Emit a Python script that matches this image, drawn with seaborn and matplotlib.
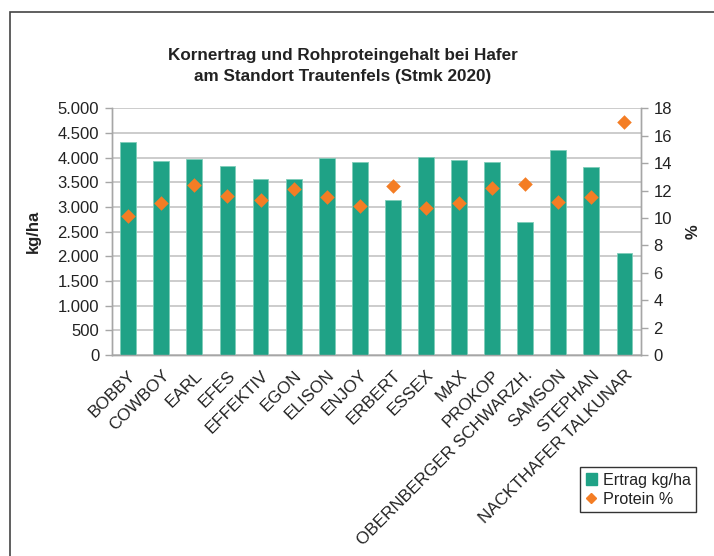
import numpy as np
import matplotlib
matplotlib.use("Agg")
import matplotlib.pyplot as plt
import matplotlib.ticker as mticker
from matplotlib.patches import Patch, Rectangle
from matplotlib.lines import Line2D
import seaborn as sns

# Daten
sorten = ['BOBBY', 'COWBOY', 'EARL', 'EFES', 'EFFEKTIV', 'EGON', 'ELISON', 'ENJOY',
          'ERBERT', 'ESSEX', 'MAX', 'PROKOP', 'OBERNBERGER SCHWARZH.', 'SAMSON',
          'STEPHAN', 'NACKTHAFER TALKUNAR']
ertrag = [4310, 3925, 3965, 3830, 3560, 3570, 4000, 3910,
          3150, 4015, 3950, 3905, 2690, 4150, 3810, 2065]
protein = [10.15, 11.1, 12.4, 11.6, 11.3, 12.1, 11.5, 10.9,
           12.3, 10.7, 11.1, 12.2, 12.5, 11.2, 11.5, 17.0]
ertrag_ticks = [0, 500, 1000, 1500, 2000, 2500, 3000, 3500, 4000, 4500, 5000]
protein_ticks = [0, 2, 4, 6, 8, 10, 12, 14, 16, 18]

sns.set_style("white")
plt.rcParams['font.family'] = ['Liberation Sans', 'DejaVu Sans']
plt.rcParams['font.size'] = 12

gruen = '#1fa286'
orange = '#f47d24'
grau = '#a6a6a6'
text = '#222222'

fig = plt.figure(figsize=(7.14, 5.56), dpi=100)
ax = fig.add_axes([0.1564, 0.3615, 0.8978 - 0.1564, 0.8052 - 0.3615])

df_x = np.arange(len(sorten))
sns.barplot(x=df_x, y=ertrag, color=gruen, width=0.48, saturation=1,
            edgecolor='#7fcdb9', linewidth=0.6, ax=ax, zorder=3)

ax.set_ylim(0, 5000)
ax.set_yticks(ertrag_ticks)
ax.yaxis.set_major_formatter(mticker.FuncFormatter(lambda v, p: f"{v:,.0f}".replace(",", ".")))
ax.grid(axis='y', color='#c4c4c4', linewidth=1.2, zorder=0)
ax.set_axisbelow(True)

ax.set_xlim(-0.5, len(sorten) - 0.5)
ax.set_xticks(df_x)
ax.set_xticklabels(sorten, rotation=45, ha='right', va='top', rotation_mode='anchor',
                   color=text, fontsize=12.3)
ax.set_xticks(np.arange(-0.5, len(sorten), 1), minor=True)
ax.tick_params(axis='x', which='major', length=0, pad=9)
ax.tick_params(axis='x', which='minor', length=5, color=grau, width=1)
ax.tick_params(axis='y', length=5, color=grau, width=1, labelcolor=text, labelsize=12, pad=4)
ax.set_xlabel('')
ax.set_ylabel('kg/ha', fontweight='bold', fontsize=12, color=text, labelpad=12)

ax2 = ax.twinx()
sns.scatterplot(x=df_x, y=protein, marker='D', s=55, color=orange, edgecolor=orange,
                linewidth=0, ax=ax2, zorder=4)
ax2.set_ylim(0, 18)
ax2.set_yticks(protein_ticks)
ax2.tick_params(axis='y', length=5, color=grau, width=1, labelcolor=text, labelsize=12, pad=4)
ax2.set_ylabel('%', fontweight='bold', fontsize=12, color=text, labelpad=10)

for a in (ax, ax2):
    for name, sp in a.spines.items():
        sp.set_color(grau)
        sp.set_linewidth(1)
    a.spines['top'].set_visible(False)

fig.text(343 / 714, 1 - 66 / 556, 'Kornertrag und Rohproteingehalt bei Hafer\nam Standort Trautenfels (Stmk 2020)',
         ha='center', va='center', fontsize=12.3, fontweight='bold', color=text, linespacing=1.45)

handles = [Patch(facecolor=gruen, edgecolor=gruen),
           Line2D([], [], marker='D', color=orange, linestyle='none', markersize=5)]
leg = fig.legend(handles, ['Ertrag kg/ha', 'Protein %'], loc='upper left',
                 bbox_to_anchor=(580 / 714, 1 - 467 / 556), frameon=True, fancybox=False,
                 handlelength=0.7, handleheight=0.7, handletextpad=0.35, borderpad=0.35,
                 labelspacing=0.25, fontsize=11.6, borderaxespad=0)
leg.get_frame().set_edgecolor('black')
leg.get_frame().set_linewidth(1)
for t in leg.get_texts():
    t.set_color(text)

# Rahmen links und oben
fig.add_artist(Rectangle((10 / 714, -0.2), 2.0, 1.2 - 12 / 556, transform=fig.transFigure,
                         fill=False, edgecolor='#444444', linewidth=1.2))

fig.savefig('out.png', dpi=100)
